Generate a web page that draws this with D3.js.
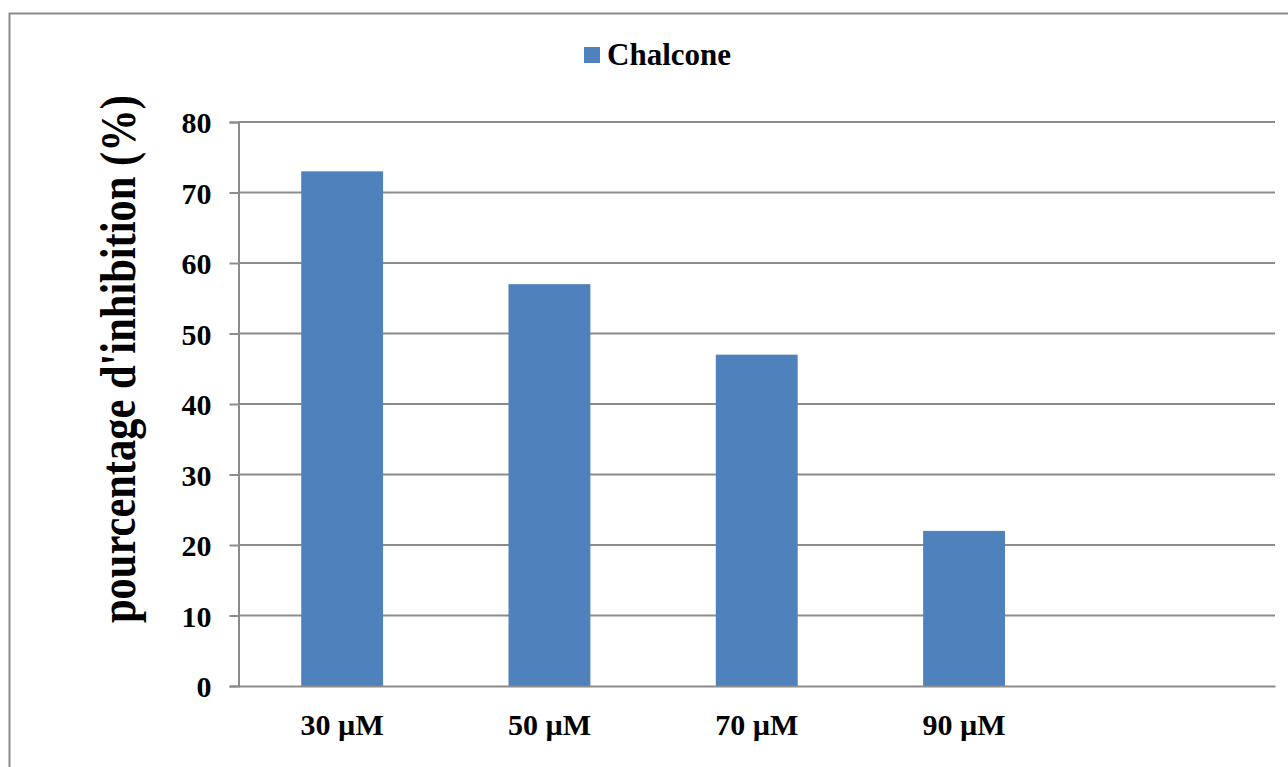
<!DOCTYPE html>
<html>
<head>
<meta charset="utf-8">
<script src="https://cdn.jsdelivr.net/npm/d3@7"></script>
<style>
  html, body { margin: 0; padding: 0; background: #fff; }
  svg { display: block; }
  text { font-family: "Liberation Serif", "Times New Roman", serif; font-weight: bold; fill: #000; }
</style>
</head>
<body>
<svg id="chart" width="1288" height="767"></svg>
<script>
const categories = ["30 µM", "50 µM", "70 µM", "90 µM", ""];
const values = [73, 57, 47, 22, null];
const yTicks = [0, 10, 20, 30, 40, 50, 60, 70, 80];
const seriesName = "Chalcone";
const yTitle = "pourcentage d'inhibition (%)";

const svg = d3.select("#chart");
const W = 1288, H = 767;
const m = { left: 238.5, right: 1275, top: 122, bottom: 686 };

// outer border (extends past the right and bottom edge)
svg.append("rect")
  .attr("x", 9.5).attr("y", 13.5)
  .attr("width", W + 20).attr("height", H + 20)
  .attr("fill", "none").attr("stroke", "#8a8a8a").attr("stroke-width", 2);

const x = d3.scaleBand().domain(categories)
  .range([m.left, m.right]).paddingInner(0.605).paddingOuter(0.3025);
const y = d3.scaleLinear().domain([0, 80]).range([m.bottom, m.top]);

// gridlines
svg.append("g").selectAll("line").data(yTicks.filter(d => d > 0)).join("line")
  .attr("x1", m.left).attr("x2", m.right)
  .attr("y1", d => y(d)).attr("y2", d => y(d))
  .attr("stroke", "#8c8c8c").attr("stroke-width", 2);

// bars
svg.append("g").selectAll("rect").data(categories.map((c, i) => ({ c, v: values[i] })).filter(d => d.v != null)).join("rect")
  .attr("x", d => x(d.c)).attr("width", x.bandwidth())
  .attr("y", d => y(d.v)).attr("height", d => y(0) - y(d.v))
  .attr("fill", "#4F81BD");

// y axis
const yAxis = d3.axisLeft(y).tickValues(yTicks).tickSize(9).tickPadding(18).tickFormat(d3.format("d"));
const gy = svg.append("g").attr("transform", `translate(${m.left},0)`).call(yAxis);
gy.select(".domain").attr("stroke", "#8c8c8c").attr("stroke-width", 2);
gy.selectAll(".tick line").attr("stroke", "#8c8c8c").attr("stroke-width", 2);
gy.selectAll(".tick text").style("font-size", "30px").attr("dy", "0.35em")
  .style("font-family", "Liberation Serif").style("font-weight", "bold").attr("fill", "#000");

// x axis
const xAxis = d3.axisBottom(x).tickSize(0).tickPadding(28);
const gx = svg.append("g").attr("transform", `translate(0,${m.bottom})`).call(xAxis);
gx.select(".domain").attr("stroke", "#8c8c8c").attr("stroke-width", 2);
gx.selectAll(".tick text").style("font-size", "30px")
  .style("font-family", "Liberation Serif").style("font-weight", "bold").attr("fill", "#000");

// y title: condensed horizontally (in text coordinates) to fit the reference span
const title = svg.append("text")
  .attr("text-anchor", "start")
  .style("font-size", "50px")
  .text(yTitle);
const natural = title.node().getComputedTextLength();
const sx = 528 / natural;
title.attr("transform", `translate(135,623) rotate(-90) scale(${sx},1)`);

// legend
svg.append("rect").attr("x", 584).attr("y", 47).attr("width", 16).attr("height", 16).attr("fill", "#4F81BD");
svg.append("text").attr("x", 607).attr("y", 65).style("font-size", "31px").text(seriesName);
</script>
</body>
</html>
